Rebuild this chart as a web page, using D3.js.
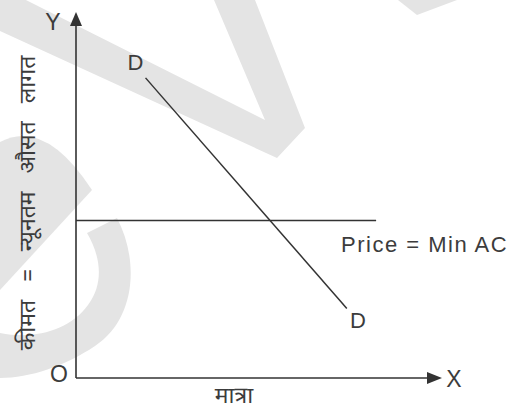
<!DOCTYPE html>
<html>
<head>
<meta charset="utf-8">
<script src="https://cdn.jsdelivr.net/npm/d3@7"></script>
<style>
  html, body { margin: 0; padding: 0; background: #fff; }
  svg { display: block; }
  text { font-family: "Liberation Sans", Arial, sans-serif; fill: #3c3c3c; }
  .hi { font-family: "Noto Sans Devanagari", "Lohit Devanagari", "Noto Sans", sans-serif; }
</style>
</head>
<body>
<svg id="chart" width="515" height="414"></svg>
<script>
'use strict';

// данные: кривая спроса (две точки) и уровень цены
const demandQty = [1.9, 7.4];
const demandPrice = [8.2, 1.9];
const priceLevel = 4.3;
const priceLineEnd = 8.2;
const axisMax = 10;

// подписи
const yTitle = 'कीमत = न्यूनतम औसत लागत';
const xTitle = 'मात्रा';
const priceLabel = 'Price = Min AC';
const demandLabel = 'D';

const svg = d3.select('#chart');

const x = d3.scaleLinear().domain([0, axisMax]).range([76, 442]);
const y = d3.scaleLinear().domain([0, axisMax]).range([378, 12]);

// водяной знак на фоне (серые полосы)
const wm = svg.append('g').attr('fill', '#e4e4e4');
wm.append('path').attr('d', 'M0,-13 L265,120 L214,0 L255,0 L305,128 L277,158 L0,31 Z');
wm.append('path').attr('d', 'M398,0 L417,15 L457,0 Z');
wm.append('path').attr('d', 'M0,142 Q45,118 92,190 L0,290 Z');
wm.append('path').attr('d', 'M117,218 C140,262 135,320 95,346 C65,366 30,378 0,378 L0,333 C35,340 70,330 88,305 C105,282 100,255 87,233 Z');

const ink = '#333';

// оси
svg.append('line')
  .attr('x1', x(0)).attr('y1', y(0))
  .attr('x2', x(0)).attr('y2', y(axisMax) + 12)
  .attr('stroke', ink).attr('stroke-width', 1.6);
svg.append('line')
  .attr('x1', x(0)).attr('y1', y(0))
  .attr('x2', x(axisMax) - 12).attr('y2', y(0))
  .attr('stroke', ink).attr('stroke-width', 1.6);

// стрелки
svg.append('path')
  .attr('d', `M${x(0)},${y(axisMax)} L${x(0) - 6},${y(axisMax) + 14} L${x(0) + 6},${y(axisMax) + 14} Z`)
  .attr('fill', ink);
svg.append('path')
  .attr('d', `M${x(axisMax)},${y(0)} L${x(axisMax) - 15},${y(0) - 6} L${x(axisMax) - 15},${y(0) + 6} Z`)
  .attr('fill', ink);

// кривая спроса
const demand = demandQty.map((q, i) => ({q, p: demandPrice[i]}));
svg.append('path')
  .datum(demand)
  .attr('d', d3.line().x(d => x(d.q)).y(d => y(d.p)))
  .attr('fill', 'none')
  .attr('stroke', ink)
  .attr('stroke-width', 1.5);

// горизонтальная линия цены
svg.append('line')
  .attr('x1', x(0)).attr('y1', y(priceLevel))
  .attr('x2', x(priceLineEnd)).attr('y2', y(priceLevel))
  .attr('stroke', ink).attr('stroke-width', 1.5);

// подписи D
svg.append('text')
  .attr('x', x(demand[0].q) - 10).attr('y', y(demand[0].p) - 8)
  .attr('text-anchor', 'middle').attr('font-size', 22)
  .text(demandLabel);
svg.append('text')
  .attr('x', x(demand[1].q) + 11).attr('y', y(demand[1].p) + 20)
  .attr('text-anchor', 'middle').attr('font-size', 22)
  .text(demandLabel);

svg.append('text')
  .attr('x', 341).attr('y', y(priceLevel) + 31)
  .attr('font-size', 22).attr('letter-spacing', 1.5)
  .text(priceLabel);

// буквы осей
svg.append('text').attr('x', 53).attr('y', 30).attr('text-anchor', 'middle').attr('font-size', 23).text('Y');
svg.append('text').attr('x', 454).attr('y', 387).attr('text-anchor', 'middle').attr('font-size', 23).text('X');
svg.append('text').attr('x', 59).attr('y', 382).attr('text-anchor', 'middle').attr('font-size', 23).text('O');

// заголовки осей
svg.append('text')
  .attr('class', 'hi')
  .attr('x', 234).attr('y', 403)
  .attr('text-anchor', 'middle').attr('font-size', 23)
  .text(xTitle);

svg.append('text')
  .attr('class', 'hi')
  .attr('transform', 'translate(35,203) rotate(-90)')
  .attr('text-anchor', 'middle').attr('font-size', 23)
  .attr('word-spacing', 12)
  .text(yTitle);
</script>
</body>
</html>
